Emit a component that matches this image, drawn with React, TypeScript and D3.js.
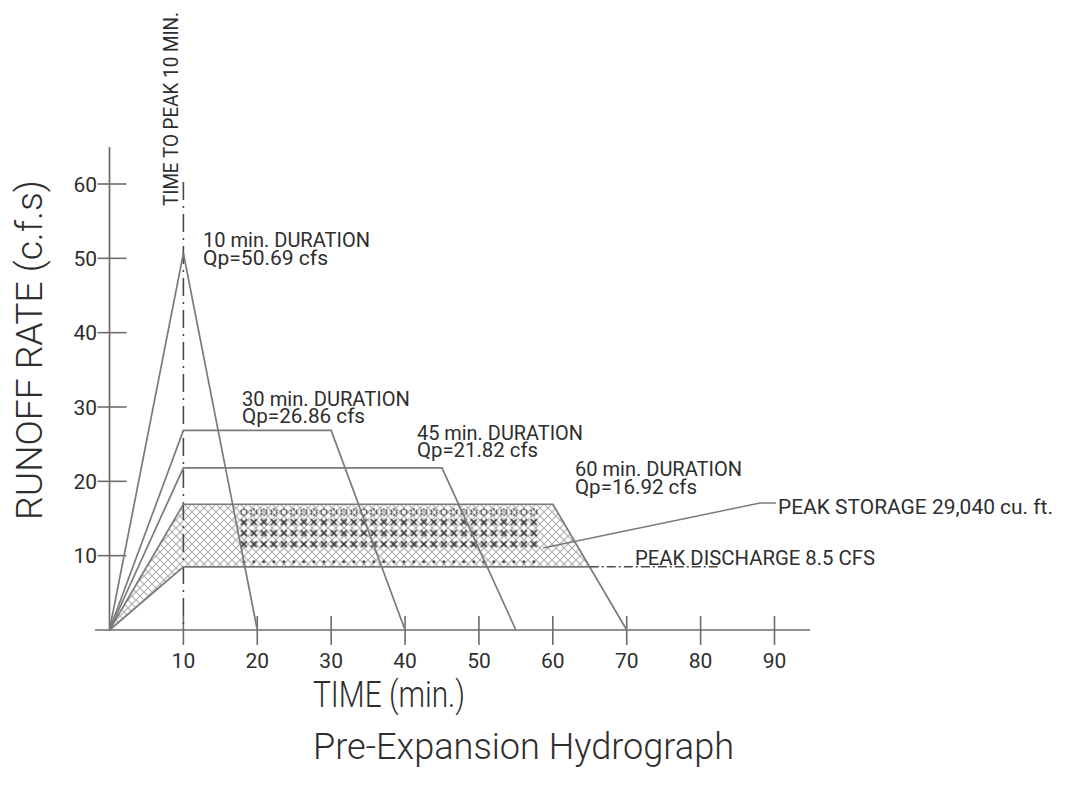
import React from "react";
import * as d3 from "d3";

// ---------- data ----------
const durationLabels = ["10 min. DURATION", "30 min. DURATION", "45 min. DURATION", "60 min. DURATION"];
const peakLabels = ["Qp=50.69 cfs", "Qp=26.86 cfs", "Qp=21.82 cfs", "Qp=16.92 cfs"];
const hydro10: [number, number][] = [[0, 0], [10, 50.69], [20, 0]];
const hydro30: [number, number][] = [[0, 0], [10, 26.86], [30, 26.86], [40, 0]];
const hydro45: [number, number][] = [[0, 0], [10, 21.82], [45, 21.82], [55, 0]];
const hydro60: [number, number][] = [[0, 0], [10, 16.92], [60, 16.92], [70, 0]];
const outflow: [number, number][] = [[0, 0], [10, 8.5], [65, 8.5]];
const dischargeLine: [number, number][] = [[65, 8.5], [82.3, 8.5]];
const xTicks = [10, 20, 30, 40, 50, 60, 70, 80, 90];
const yTicks = [10, 20, 30, 40, 50, 60];
const timeToPeak = 10;
const denseSpan = [17.5, 58];
const storageText = "PEAK STORAGE 29,040 cu. ft.";
const dischargeText = "PEAK DISCHARGE 8.5 CFS";
const peakText = "TIME TO PEAK 10 MIN.";
const xTitle = "TIME (min.)";
const yTitle = "RUNOFF RATE (c.f.s)";
const chartTitle = "Pre-Expansion Hydrograph";

const W = 1065;
const H = 791;
const FONT = "Roboto, 'Liberation Sans', 'DejaVu Sans', sans-serif";
const LINE = "#7a7a7a";
const AXIS = "#6c6c6c";
const INK = "#2e2e2e";

export default function App() {
  const x = d3.scaleLinear().domain([0, 90]).range([109.5, 774.5]);
  const y = d3.scaleLinear().domain([0, 60]).range([630, 184]);
  const line = d3.line<[number, number]>().x((d) => x(d[0])).y((d) => y(d[1]));

  const storagePoly: [number, number][] = [
    ...hydro60.slice(0, 3),
    ...outflow.slice().reverse(),
  ];
  const storagePath = line(storagePoly) + "Z";
  const hydros = [hydro10, hydro30, hydro45, hydro60];

  const labelPos = [
    { x: 203, y1: 247, y2: 265, w1: 167, w2: 125 },
    { x: 242, y1: 406, y2: 423, w1: 168, w2: 123 },
    { x: 417, y1: 440, y2: 457, w1: 166, w2: 121 },
    { x: 575, y1: 476, y2: 494, w1: 167, w2: 122 },
  ];

  const topY = y(hydro60[1][1]);
  const botY = y(outflow[1][1]);
  const dx0 = x(denseSpan[0]);
  const dx1 = x(denseSpan[1]);

  const txt = (
    s: string,
    px: number,
    py: number,
    size: number,
    len?: number,
    extra: any = {},
    weight = 400
  ) => (
    <text
      x={px}
      y={py}
      fontSize={size}
      fontFamily={FONT}
      fontWeight={weight}
      fill={INK}
      textLength={len}
      lengthAdjust={len ? "spacingAndGlyphs" : undefined}
      {...extra}
    >
      {s}
    </text>
  );

  return (
    <svg
      width={W}
      height={H}
      viewBox={`0 0 ${W} ${H}`}
      style={{ position: "absolute", left: 0, top: 0, background: "#fff" }}
    >
      <defs>
        <pattern id="hatchLight" patternUnits="userSpaceOnUse" width="8" height="8">
          <path d="M0,0L8,8M8,0L0,8" stroke="#b0b0b0" strokeWidth="1.2" />
        </pattern>
        <pattern id="hatchDark" patternUnits="userSpaceOnUse" width="10" height="11" x={dx0} y={topY + 13}>
          <path d="M2,2L8,8M8,2L2,8" stroke="#333" strokeWidth="1.7" />
        </pattern>
        <pattern id="circles" patternUnits="userSpaceOnUse" width="10" height="10" x={dx0} y={topY + 3}>
          <circle cx="5" cy="5" r="3" fill="none" stroke="#333" strokeWidth="1.4" strokeDasharray="2,1.2" />
        </pattern>
        <pattern id="dots" patternUnits="userSpaceOnUse" width="10" height="6" x={dx0} y={botY - 8}>
          <circle cx="5" cy="3" r="1.4" fill="#333" />
        </pattern>
        <clipPath id="storageClip">
          <path d={storagePath} />
        </clipPath>
      </defs>

      {/* storage area */}
      <path d={storagePath} fill="url(#hatchLight)" stroke="none" />
      <g clipPath="url(#storageClip)">
        <rect x={dx0} y={topY + 3} width={dx1 - dx0} height={10} fill="url(#circles)" />
        <rect x={dx0} y={topY + 13} width={dx1 - dx0} height={33} fill="url(#hatchDark)" />
        <rect x={dx0} y={botY - 8} width={dx1 - dx0} height={6} fill="url(#dots)" />
      </g>

      {/* axes */}
      <line x1={95} x2={810} y1={y(0)} y2={y(0)} stroke={AXIS} strokeWidth={1.7} />
      <line x1={x(0)} x2={x(0)} y1={147} y2={y(0) + 1} stroke={AXIS} strokeWidth={1.7} />
      {xTicks.map((t) => (
        <g key={"xt" + t}>
          <line x1={x(t)} x2={x(t)} y1={y(0) - 14} y2={y(0) + 15} stroke={AXIS} strokeWidth={1.6} />
          {txt(String(t), x(t), 668, 21, undefined, { textAnchor: "middle" })}
        </g>
      ))}
      {yTicks.map((t) => (
        <g key={"yt" + t}>
          <line x1={x(0) - 12} x2={x(0) + 17} y1={y(t)} y2={y(t)} stroke={AXIS} strokeWidth={1.6} />
          {txt(String(t), 97, y(t) + 7.5, 21, undefined, { textAnchor: "end" })}
        </g>
      ))}

      {/* time to peak dash-dot line */}
      <line
        x1={x(timeToPeak)}
        x2={x(timeToPeak)}
        y1={182}
        y2={y(0)}
        stroke="#4a4a4a"
        strokeWidth={1.6}
        strokeDasharray="18,6,2,6"
      />

      {/* hydrographs */}
      {hydros.map((h, i) => (
        <path key={"h" + i} d={line(h) || ""} fill="none" stroke={LINE} strokeWidth={1.7} />
      ))}
      <path d={line(outflow) || ""} fill="none" stroke={LINE} strokeWidth={1.7} />
      <path
        d={line(dischargeLine) || ""}
        fill="none"
        stroke="#4a4a4a"
        strokeWidth={1.4}
        strokeDasharray="9,3,2,3"
      />

      {/* storage leader */}
      <polyline points="543,548 760,503 776,503" fill="none" stroke={LINE} strokeWidth={1.5} />

      {/* labels */}
      {labelPos.map((p, i) => (
        <g key={"lab" + i}>
          {txt(durationLabels[i], p.x, p.y1, 20, p.w1)}
          {txt(peakLabels[i], p.x, p.y2, 20, p.w2)}
        </g>
      ))}
      {txt(storageText, 778, 514, 20, 275)}
      {txt(dischargeText, 635, 565, 20, 240)}

      {/* rotated peak text */}
      <g transform="translate(178,206) rotate(-90)">{txt(peakText, 0, 0, 20, 194)}</g>

      {/* titles */}
      <g transform="translate(42,520) rotate(-90)">{txt(yTitle, 0, 0, 37, 340, {}, 300)}</g>
      {txt(xTitle, 313, 707, 36, 152, {}, 300)}
      {txt(chartTitle, 313, 759, 36, 421, {}, 300)}
    </svg>
  );
}
